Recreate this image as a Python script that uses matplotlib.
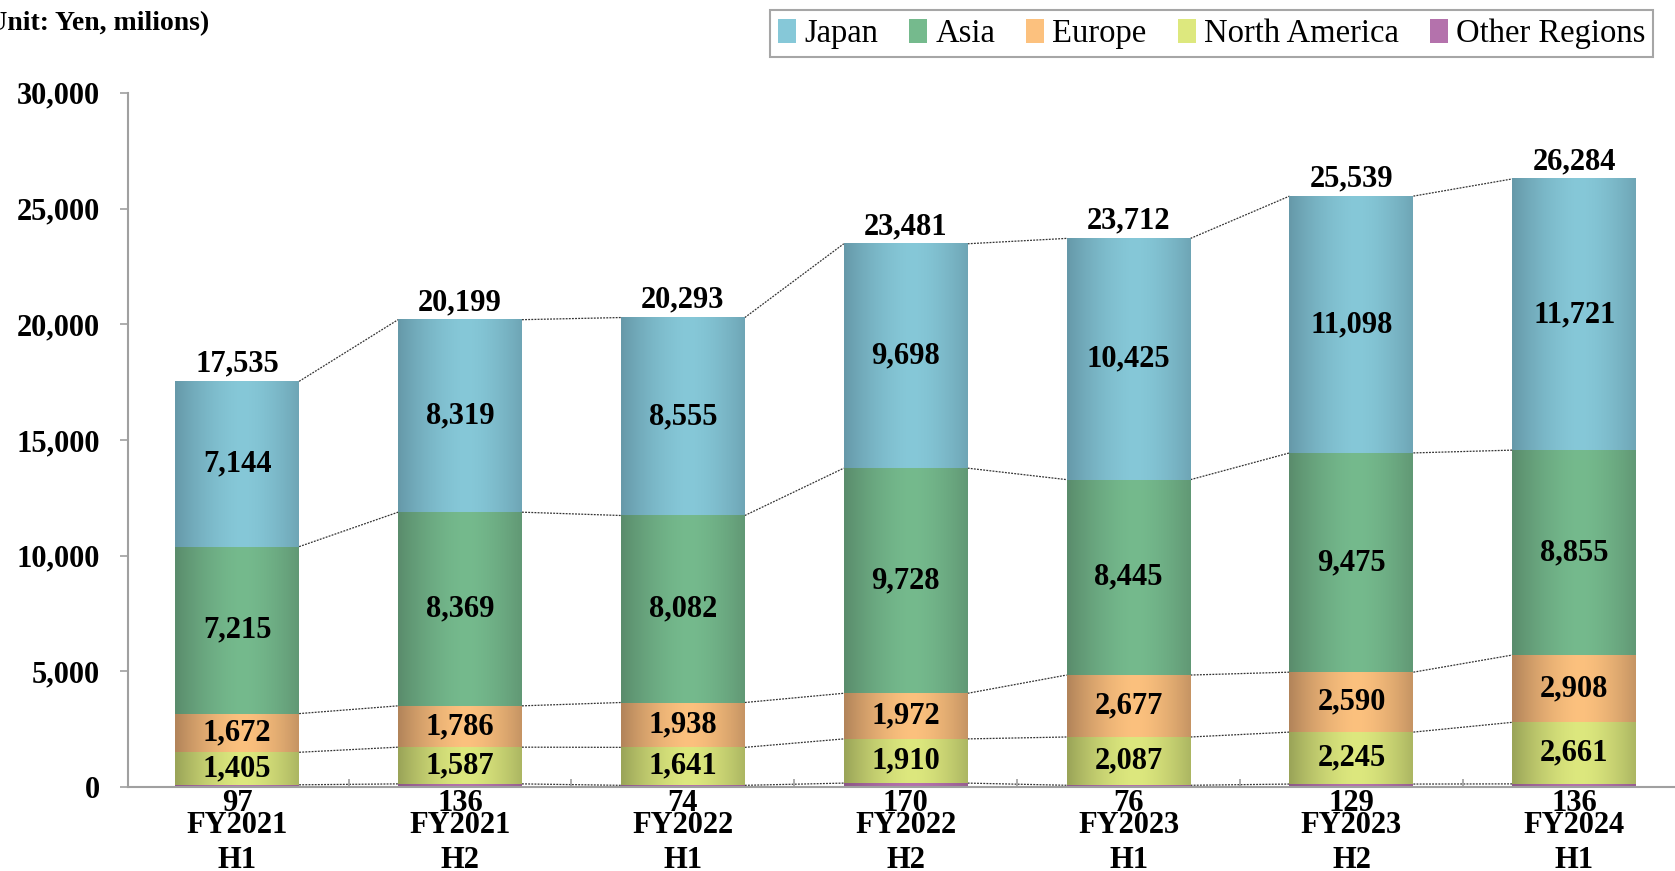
import numpy as np
import matplotlib
matplotlib.use('Agg')
import matplotlib.pyplot as plt
from matplotlib.patches import Patch
from matplotlib.colors import to_rgb

# data (Yen, millions)
periods = ['FY2021\nH1', 'FY2021\nH2', 'FY2022\nH1', 'FY2022\nH2',
           'FY2023\nH1', 'FY2023\nH2', 'FY2024\nH1']
other = [97, 136, 74, 170, 76, 129, 136]
north_america = [1405, 1587, 1641, 1910, 2087, 2245, 2661]
europe = [1672, 1786, 1938, 1972, 2677, 2590, 2908]
asia = [7215, 8369, 8082, 9728, 8445, 9475, 8855]
japan = [7144, 8319, 8555, 9698, 10425, 11098, 11721]
totals = [17535, 20199, 20293, 23481, 23712, 25539, 26284]

# stacked bottom -> top
series = [
    ('Other Regions', other, '#b472ac', '#8c5786'),
    ('North America', north_america, '#dde87e', '#9aa458'),
    ('Europe', europe, '#fcc17e', '#b2845a'),
    ('Asia', asia, '#75ba8d', '#5a8c6c'),
    ('Japan', japan, '#86c8d8', '#6699a9'),
]
legend_order = ['Japan', 'Asia', 'Europe', 'North America', 'Other Regions']

plt.rcParams['font.family'] = ['Liberation Serif', 'DejaVu Serif']
FS = 22

fig = plt.figure(figsize=(16.75, 8.71), dpi=100)
ax = fig.add_axes([0.0764, 0.0964, 0.93, 0.797])

bar_w = 0.556
x = np.arange(len(periods))


def gradient(center, edge, n=80):
    u = np.linspace(0, 1, n)
    t = 1 - np.clip(np.abs(u - 0.55) / 0.55, 0, 1) ** 1.6
    c = np.array(to_rgb(center))
    e = np.array(to_rgb(edge))
    return (e[None, :] + (c - e)[None, :] * t[:, None])[None, :, :]


bottom = np.zeros(len(periods))
levels = []
for name, vals, c_mid, c_edge in series:
    vals = np.array(vals, dtype=float)
    img = gradient(c_mid, c_edge)
    for i in range(len(periods)):
        ax.imshow(img, extent=(x[i] - bar_w / 2, x[i] + bar_w / 2,
                               bottom[i], bottom[i] + vals[i]),
                  aspect='auto', interpolation='bilinear', zorder=2)
        if name == 'Other Regions':
            ax.text(x[i], -700, f'{int(vals[i]):,}', ha='center', va='center',
                    fontsize=FS, fontweight='bold', zorder=5, clip_on=False)
        else:
            ax.text(x[i], bottom[i] + vals[i] / 2, f'{int(vals[i]):,}',
                    ha='center', va='center', fontsize=FS, fontweight='bold',
                    zorder=5)
    bottom = bottom + vals
    levels.append(bottom.copy())

# dotted connectors between bars
for lev in levels:
    for i in range(len(periods) - 1):
        ax.plot([x[i] + bar_w / 2, x[i + 1] - bar_w / 2], [lev[i], lev[i + 1]],
                color='#333333', lw=0.9, ls=(0, (1.5, 1)), zorder=1)

for i, t in enumerate(totals):
    ax.annotate(f'{t:,}', (x[i], levels[-1][i]), xytext=(0, 2),
                textcoords='offset points', ha='center', va='bottom',
                fontsize=FS, fontweight='bold')

ax.set_xlim(-0.49, 6.50)
ax.set_ylim(0, 30000)
ax.set_yticks(np.arange(0, 30001, 5000))
ax.set_yticklabels([f'{v:,}' for v in range(0, 30001, 5000)],
                   fontsize=FS, fontweight='bold')
ax.set_xticks(x)
ax.set_xticklabels(periods, fontsize=FS, fontweight='bold', linespacing=1.3)
ax.tick_params(axis='x', length=0, pad=17)
ax.set_xticks(x[:-1] + 0.5, minor=True)
ax.tick_params(axis='x', which='minor', direction='in', length=6,
               color='#a0a0a0', width=1.2)
ax.tick_params(axis='y', direction='out', length=6, color='#a0a0a0',
               width=1.2, pad=14)
for s in ['top', 'right']:
    ax.spines[s].set_visible(False)
for s in ['left', 'bottom']:
    ax.spines[s].set_color('#a0a0a0')
    ax.spines[s].set_linewidth(1.5)

fig.text(-0.013, 0.973, '(Unit: Yen, milions)', fontsize=20,
         fontweight='bold', ha='left', va='center')

colors = {name: c for name, _, c, _ in series}
handles = [Patch(facecolor=colors[n], edgecolor='none', label=n)
           for n in legend_order]
leg = fig.legend(handles=handles, loc='upper right',
                 bbox_to_anchor=(0.987, 0.988), ncol=5, fontsize=23.5,
                 frameon=True, fancybox=False, handlelength=0.55,
                 handleheight=0.75, handletextpad=0.25, columnspacing=0.95,
                 borderpad=0.25, borderaxespad=0)
leg.get_frame().set_edgecolor('#909090')
leg.get_frame().set_linewidth(1.5)

fig.savefig('out.png', dpi=100)
